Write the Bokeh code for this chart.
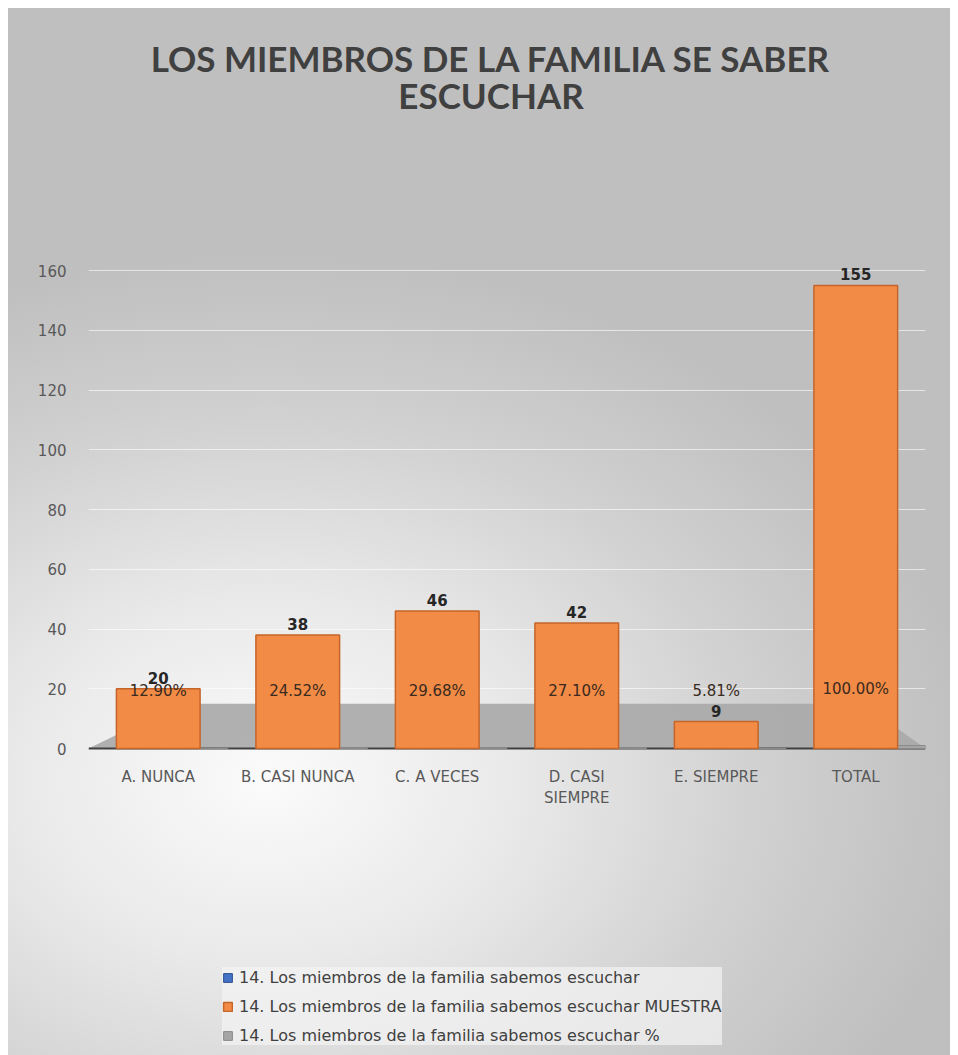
from bokeh.plotting import figure
from bokeh.models import Range1d, FixedTicker, Legend, LegendItem
from bokeh.core.properties import value
from bokeh.embed import file_html
from bokeh.resources import INLINE

# ---------------- data ----------------
title_lines = ["LOS MIEMBROS DE LA FAMILIA SE SABER", "ESCUCHAR"]
categories = ["A. NUNCA", "B. CASI NUNCA", "C. A VECES", "D. CASI\nSIEMPRE", "E. SIEMPRE", "TOTAL"]
serie_base = [0, 0, 0, 0, 0, 0]
muestra = [20, 38, 46, 42, 9, 155]
porcentaje = [0.1290, 0.2452, 0.2968, 0.2710, 0.0581, 1.0000]
y_ticks = [0, 20, 40, 60, 80, 100, 120, 140, 160]
series_names = [
    "14. Los miembros de la familia sabemos escuchar",
    "14. Los miembros de la familia sabemos escuchar MUESTRA",
    "14. Los miembros de la familia sabemos escuchar %",
]

n = len(categories)
xs = [i + 0.5 for i in range(n)]
pct_labels = [f"{v * 100:.2f}%" for v in porcentaje]

FONT = "DejaVu Sans"
W, H = 950, 1055
PX_PER_UNIT = 2.9875      # vertical scale of the value axis
ZERO_Y = 748              # pixel row of the value 0
y_top = ZERO_Y / PX_PER_UNIT
y_bot = -(H - ZERO_Y) / PX_PER_UNIT

bg = ("linear-gradient(#ffffff, #ffffff) top left / 100% 8px no-repeat, "
      "linear-gradient(#ffffff, #ffffff) top left / 8px 100% no-repeat, "
      "radial-gradient(ellipse 75% 50% at 28% 74%, #fbfbfb 0%, #e9e9e9 35%, #d0d0d0 70%, #bfbfbf 100%)")

p = figure(
    width=W, height=H,
    x_range=Range1d(0, n), y_range=Range1d(y_bot, y_top),
    output_backend="svg", toolbar_location=None, title_location=None,
    min_border_left=88, min_border_right=25, min_border_top=0, min_border_bottom=0,
    styles={"background": bg},
)
p.background_fill_alpha = 0
p.border_fill_alpha = 0
p.outline_line_color = None

# axes
p.xaxis.visible = False
p.yaxis.ticker = FixedTicker(ticks=y_ticks)
p.yaxis.axis_line_color = None
p.yaxis.major_tick_line_color = None
p.yaxis.minor_tick_line_color = None
p.yaxis.major_label_text_font = FONT
p.yaxis.major_label_text_font_size = "15px"
p.yaxis.major_label_text_color = "#595959"
p.yaxis.major_label_standoff = 16

p.xgrid.grid_line_color = None
p.ygrid.ticker = FixedTicker(ticks=y_ticks)
p.ygrid.grid_line_color = "white"
p.ygrid.grid_line_alpha = 0.6

# title (two centred lines)
for i, line in enumerate(title_lines):
    p.text(x=[n / 2], y=[y_top], text=[line], x_offset=-16, y_offset=57 + 37 * i,
           text_align="center", text_baseline="middle", text_font=value("Lato"),
           text_font_style="bold", text_font_size="35px", text_color="#404040")

# floor
p.patch(x=[0, n, n - 0.45, 0.66], y=[0, 0, 15, 15], fill_color="#a9a9a9", fill_alpha=0.9, line_color=None)
p.line(x=[0, n], y=[0, 0], line_color="#404040", line_width=2)

# series
r_blue = p.vbar(x=xs, top=serie_base, width=0.6, fill_color="#4472C4", line_color="#2F528F")
r_pct = p.vbar(x=[x + 0.3 for x in xs], top=porcentaje, width=0.4, fill_color="#A5A5A5", line_color="#8a8a8a")
r_main = p.vbar(x=xs, top=muestra, width=0.6, fill_color="#F28B45", line_color="#C5652A", line_width=1.5)

# labels
p.text(x=xs, y=muestra, text=[str(v) for v in muestra], y_offset=-5,
       text_align="center", text_baseline="bottom", text_font=value(FONT),
       text_font_style="bold", text_font_size="15px", text_color="#262626")
p.text(x=xs, y=porcentaje, text=pct_labels, y_offset=-57,
       text_align="center", text_baseline="middle", text_font=value(FONT),
       text_font_size="15px", text_color="#3a2a20")
p.text(x=xs, y=[0] * n, text=categories, y_offset=19,
       text_align="center", text_baseline="top", text_font=value(FONT),
       text_font_size="15px", text_color="#595959")

legend = Legend(
    items=[LegendItem(label=series_names[0], renderers=[r_blue]),
           LegendItem(label=series_names[1], renderers=[r_main]),
           LegendItem(label=series_names[2], renderers=[r_pct])],
    location=(134, 10), orientation="vertical",
    background_fill_color="#f4f4f4", background_fill_alpha=0.7,
    border_line_color=None,
    label_text_font=FONT, label_text_font_size="16px", label_text_color="#404040",
    glyph_width=11, glyph_height=11, label_height=20, spacing=9,
    padding=10, margin=0, label_standoff=6,
)
p.add_layout(legend)

open("out.html", "w").write(file_html(p, INLINE))
